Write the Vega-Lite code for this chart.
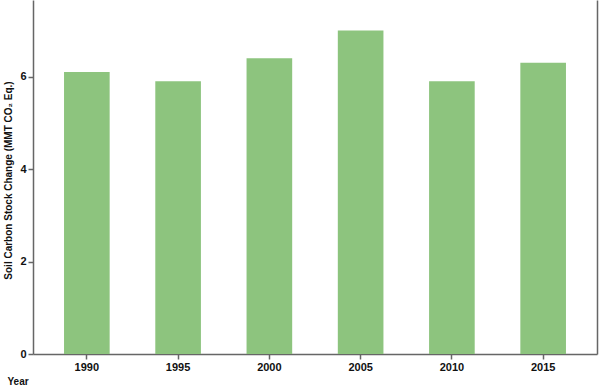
{
  "$schema": "https://vega.github.io/schema/vega-lite/v6.json",
  "autosize": "none",
  "width": 564,
  "height": 354,
  "padding": {"left": 33, "top": 0, "right": 3, "bottom": 33},
  "background": "white",
  "config": {
    "view": {"stroke": null},
    "font": "Liberation Sans",
    "axis": {
      "domainColor": "#666666",
      "domainWidth": 1.5,
      "tickColor": "#666666",
      "tickWidth": 1.5,
      "tickSize": 5,
      "grid": false,
      "labelFont": "Liberation Sans",
      "labelFontWeight": "bold",
      "labelFontSize": 11,
      "labelColor": "#111111",
      "titleFont": "Liberation Sans",
      "titleFontWeight": "bold",
      "titleFontSize": 10,
      "titleColor": "#111111"
    }
  },
  "data": {
    "values": [
      {"Year": "1990", "Value": 6.1},
      {"Year": "1995", "Value": 5.9},
      {"Year": "2000", "Value": 6.4},
      {"Year": "2005", "Value": 7.0},
      {"Year": "2010", "Value": 5.9},
      {"Year": "2015", "Value": 6.3}
    ]
  },
  "layer": [
    {
      "mark": {"type": "bar", "color": "#8dc47e"},
      "encoding": {
        "x": {
          "field": "Year", "type": "ordinal",
          "scale": {"paddingInner": 0.5, "paddingOuter": 0.34},
          "axis": {"labelAngle": 0, "labelPadding": 2, "title": "Year", "titleAnchor": "start", "titleAlign": "left", "titleX": -26, "titleY": 27, "titleBaseline": "middle"}
        },
        "y": {
          "field": "Value", "type": "quantitative",
          "scale": {"domain": [0, 7.66], "nice": false},
          "axis": {"values": [0, 2, 4, 6], "title": "Soil Carbon Stock Change  (MMT CO₂ Eq.)", "titleX": -25, "titleY": 180, "titleAngle": -90, "titleAlign": "center", "titleBaseline": "middle", "labelPadding": 2}
        }
      }
    },
    {
      "mark": {"type": "bar", "opacity": 0},
      "encoding": {
        "x": {"field": "Year", "type": "ordinal"},
        "y": {
          "field": "Value", "type": "quantitative",
          "axis": {"orient": "right", "labels": false, "ticks": false, "title": null}
        }
      }
    }
  ],
  "resolve": {"axis": {"y": "independent"}}
}
